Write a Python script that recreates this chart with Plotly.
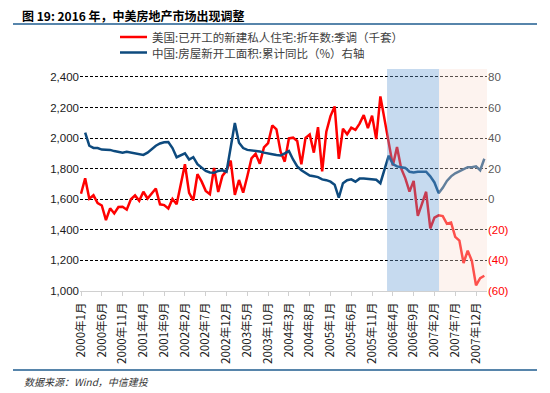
import plotly.graph_objects as go

# ---- data ----
months_per_year = 12
start_year = 2000
us_starts = [
    # 2000
    1636, 1737, 1604, 1626, 1575, 1559, 1463, 1541, 1507, 1549, 1551, 1532,
    # 2001
    1600, 1625, 1590, 1649, 1605, 1636, 1670, 1567, 1562, 1540, 1602, 1568,
    # 2002
    1698, 1829, 1642, 1592, 1764, 1717, 1655, 1633, 1804, 1648, 1753, 1788,
    # 2003
    1853, 1629, 1726, 1643, 1751, 1867, 1897, 1833, 1939, 1967, 2083, 2057,
    # 2004
    1911, 1846, 1998, 2003, 1981, 1828, 2002, 2024, 1905, 2072, 1782, 2042,
    # 2005
    2144, 2207, 1864, 2061, 2025, 2068, 2054, 2095, 2151, 2065, 2147, 1994,
    # 2006
    2273, 2119, 1969, 1821, 1942, 1802, 1737, 1650, 1720, 1491, 1570, 1649,
    # 2007
    1409, 1480, 1495, 1490, 1440, 1448, 1354, 1330, 1183, 1264, 1197, 1037,
    # 2008
    1084, 1100,
]
china_yoy = [
    # 2000
    None, 43.6, 35.0, 33.6, 33.5, 32.5, 32.3, 32.3, 31.5, 31.0, 30.5, 31.0,
    # 2001
    30.5, 30.3, 29.5, 29.0, 30.5, 33.0, 35.0, 36.5, 37.3, 37.5, 33.5, 27.5,
    # 2002
    28.5, 30.0, 26.0, 27.5, 23.0, 20.5, 18.5, 17.5, 17.3, 18.5, 19.0, 18.0,
    # 2003
    35.0, 49.9, 37.0, 33.5, 32.3, 32.0, 31.8, 31.2, 30.5, 30.2, 29.5, 29.0,
    # 2004
    28.6, 30.0, 31.5, 26.0, 21.5, 19.0, 17.0, 15.5, 15.0, 14.5, 13.0, 12.5,
    # 2005
    11.5, 9.5, 1.0, 10.5, 12.5, 13.0, 11.5, 13.5, 13.5, 13.3, 13.0, 12.8,
    # 2006
    10.5, 20.0, 28.5, 23.0, 21.5, 21.0, 20.5, 18.0, 17.5, 18.0, 18.0, 18.0,
    # 2007
    15.0, 11.0, 4.0, 7.5, 12.0, 15.0, 17.0, 18.5, 20.0, 21.0, 21.0, 21.5,
    # 2008
    19.0, 26.5,
]
x_idx = list(range(len(us_starts)))
tick_step = 5
tick_idx = list(range(0, 96, tick_step))
tick_text = [f"{start_year + i // months_per_year}年{i % months_per_year + 1}月" for i in tick_idx]

left_ticks = [1000, 1200, 1400, 1600, 1800, 2000, 2200, 2400]
right_ticks = [-60, -40, -20, 0, 20, 40, 60, 80]
right_text = [f"<span style='color:#ff0000'>({-v})</span>" if v < 0 else str(v) for v in right_ticks]

name_us = "美国:已开工的新建私人住宅:折年数:季调（千套）"
name_cn = "中国:房屋新开工面积:累计同比（%）右轴"
title_text = "图 19: 2016 年，中美房地产市场出现调整"
source_text = "数据来源：Wind，中信建投"

blue_span = (73.6, 86.1)
x_range = [-0.24, 97.64]

# ---- layout geometry (page body has an 8px margin, so shift by it) ----
OFF = 8
W, H = 550 - OFF, 393 - OFF
L = 80 - OFF
T = 69 - OFF
R = W - (487 - OFF)
B = H - (291 - OFF)
pw, ph = W - L - R, H - T - B


def px_x(px):
    return (px - OFF - L) / pw


def px_y(py):
    return (H - B - (py - OFF)) / ph


cjk = "Noto Sans CJK SC"
latin = "Liberation Sans, Arial, sans-serif"
red = "#ff0000"
navy = "#0d4a7e"

fig = go.Figure()
fig.add_trace(go.Scatter(
    x=x_idx, y=us_starts, name=name_us, mode="lines",
    line=dict(color=red, width=2.5), yaxis="y"))
fig.add_trace(go.Scatter(
    x=x_idx, y=china_yoy, name=name_cn, mode="lines",
    line=dict(color=navy, width=2.5), yaxis="y2"))

fig.update_layout(
    width=W, height=H,
    margin=dict(l=L, r=R, t=T, b=B, autoexpand=False),
    paper_bgcolor="white", plot_bgcolor="white",
    showlegend=False,
    xaxis=dict(
        range=x_range, tickmode="array", tickvals=tick_idx, ticktext=tick_text,
        tickangle=-90, ticks="outside", ticklen=4, tickcolor="#d0d0d0",
        showline=True, linecolor="#d0d0d0", linewidth=1, showgrid=False, zeroline=False,
        tickfont=dict(family=cjk, size=11.5, color="#1a1a1a"), automargin=False,
        ticklabelstandoff=2,
    ),
    yaxis=dict(
        range=[1000, 2452], tickmode="array", tickvals=left_ticks,
        tickformat=",", showgrid=True, gridcolor="#000000", gridwidth=1,
        griddash="3px,2px", zeroline=False, showline=False, automargin=False,
        tickfont=dict(family=latin, size=11.5, color="#1a1a1a"), ticks="",
    ),
    yaxis2=dict(
        range=[-60, 85.2], overlaying="y", side="right", tickmode="array",
        tickvals=right_ticks, ticktext=right_text, showgrid=False, zeroline=False,
        tickfont=dict(family=latin, size=11.5, color="#595959"), ticks="", automargin=False,
    ),
)

shapes = [
    dict(type="rect", xref="x", yref="paper", x0=blue_span[0], x1=blue_span[1], y0=0, y1=1,
         fillcolor="rgb(105,158,213)", opacity=0.38, line=dict(width=0), layer="above"),
    dict(type="rect", xref="x", yref="paper", x0=blue_span[1], x1=x_range[1], y0=0, y1=1,
         fillcolor="rgb(250,222,211)", opacity=0.36, line=dict(width=0), layer="above"),
    dict(type="line", xref="paper", yref="paper", x0=px_x(13), x1=px_x(537), y0=px_y(24), y1=px_y(24),
         line=dict(color="#1f5c8f", width=1.5)),
    dict(type="line", xref="paper", yref="paper", x0=px_x(13), x1=px_x(537), y0=px_y(370), y1=px_y(370),
         line=dict(color="#1f5c8f", width=1.5)),
]
# manual legend
legend_rows = [(name_us, red, 37), (name_cn, navy, 52.5)]
for name, color, ly in legend_rows:
    shapes.append(dict(type="line", xref="paper", yref="paper", x0=px_x(120), x1=px_x(147),
                       y0=px_y(ly), y1=px_y(ly), line=dict(color=color, width=2.5)))
    fig.add_annotation(text=name, xref="paper", yref="paper", x=px_x(150), y=px_y(ly),
                       xanchor="left", yanchor="middle", showarrow=False,
                       font=dict(family=cjk, size=11.5, color="#404040"))
fig.update_layout(shapes=shapes)

fig.add_annotation(text=f"<b>{title_text}</b>", xref="paper", yref="paper",
                   x=px_x(20), y=px_y(15.5), xanchor="left", yanchor="middle", showarrow=False,
                   font=dict(family=cjk, size=12, color="#000000"))
fig.add_annotation(text=f"<i>{source_text}</i>", xref="paper", yref="paper",
                   x=px_x(22), y=px_y(381), xanchor="left", yanchor="middle", showarrow=False,
                   font=dict(family=cjk, size=10, color="#333333"))

fig.write_html("out.html")
